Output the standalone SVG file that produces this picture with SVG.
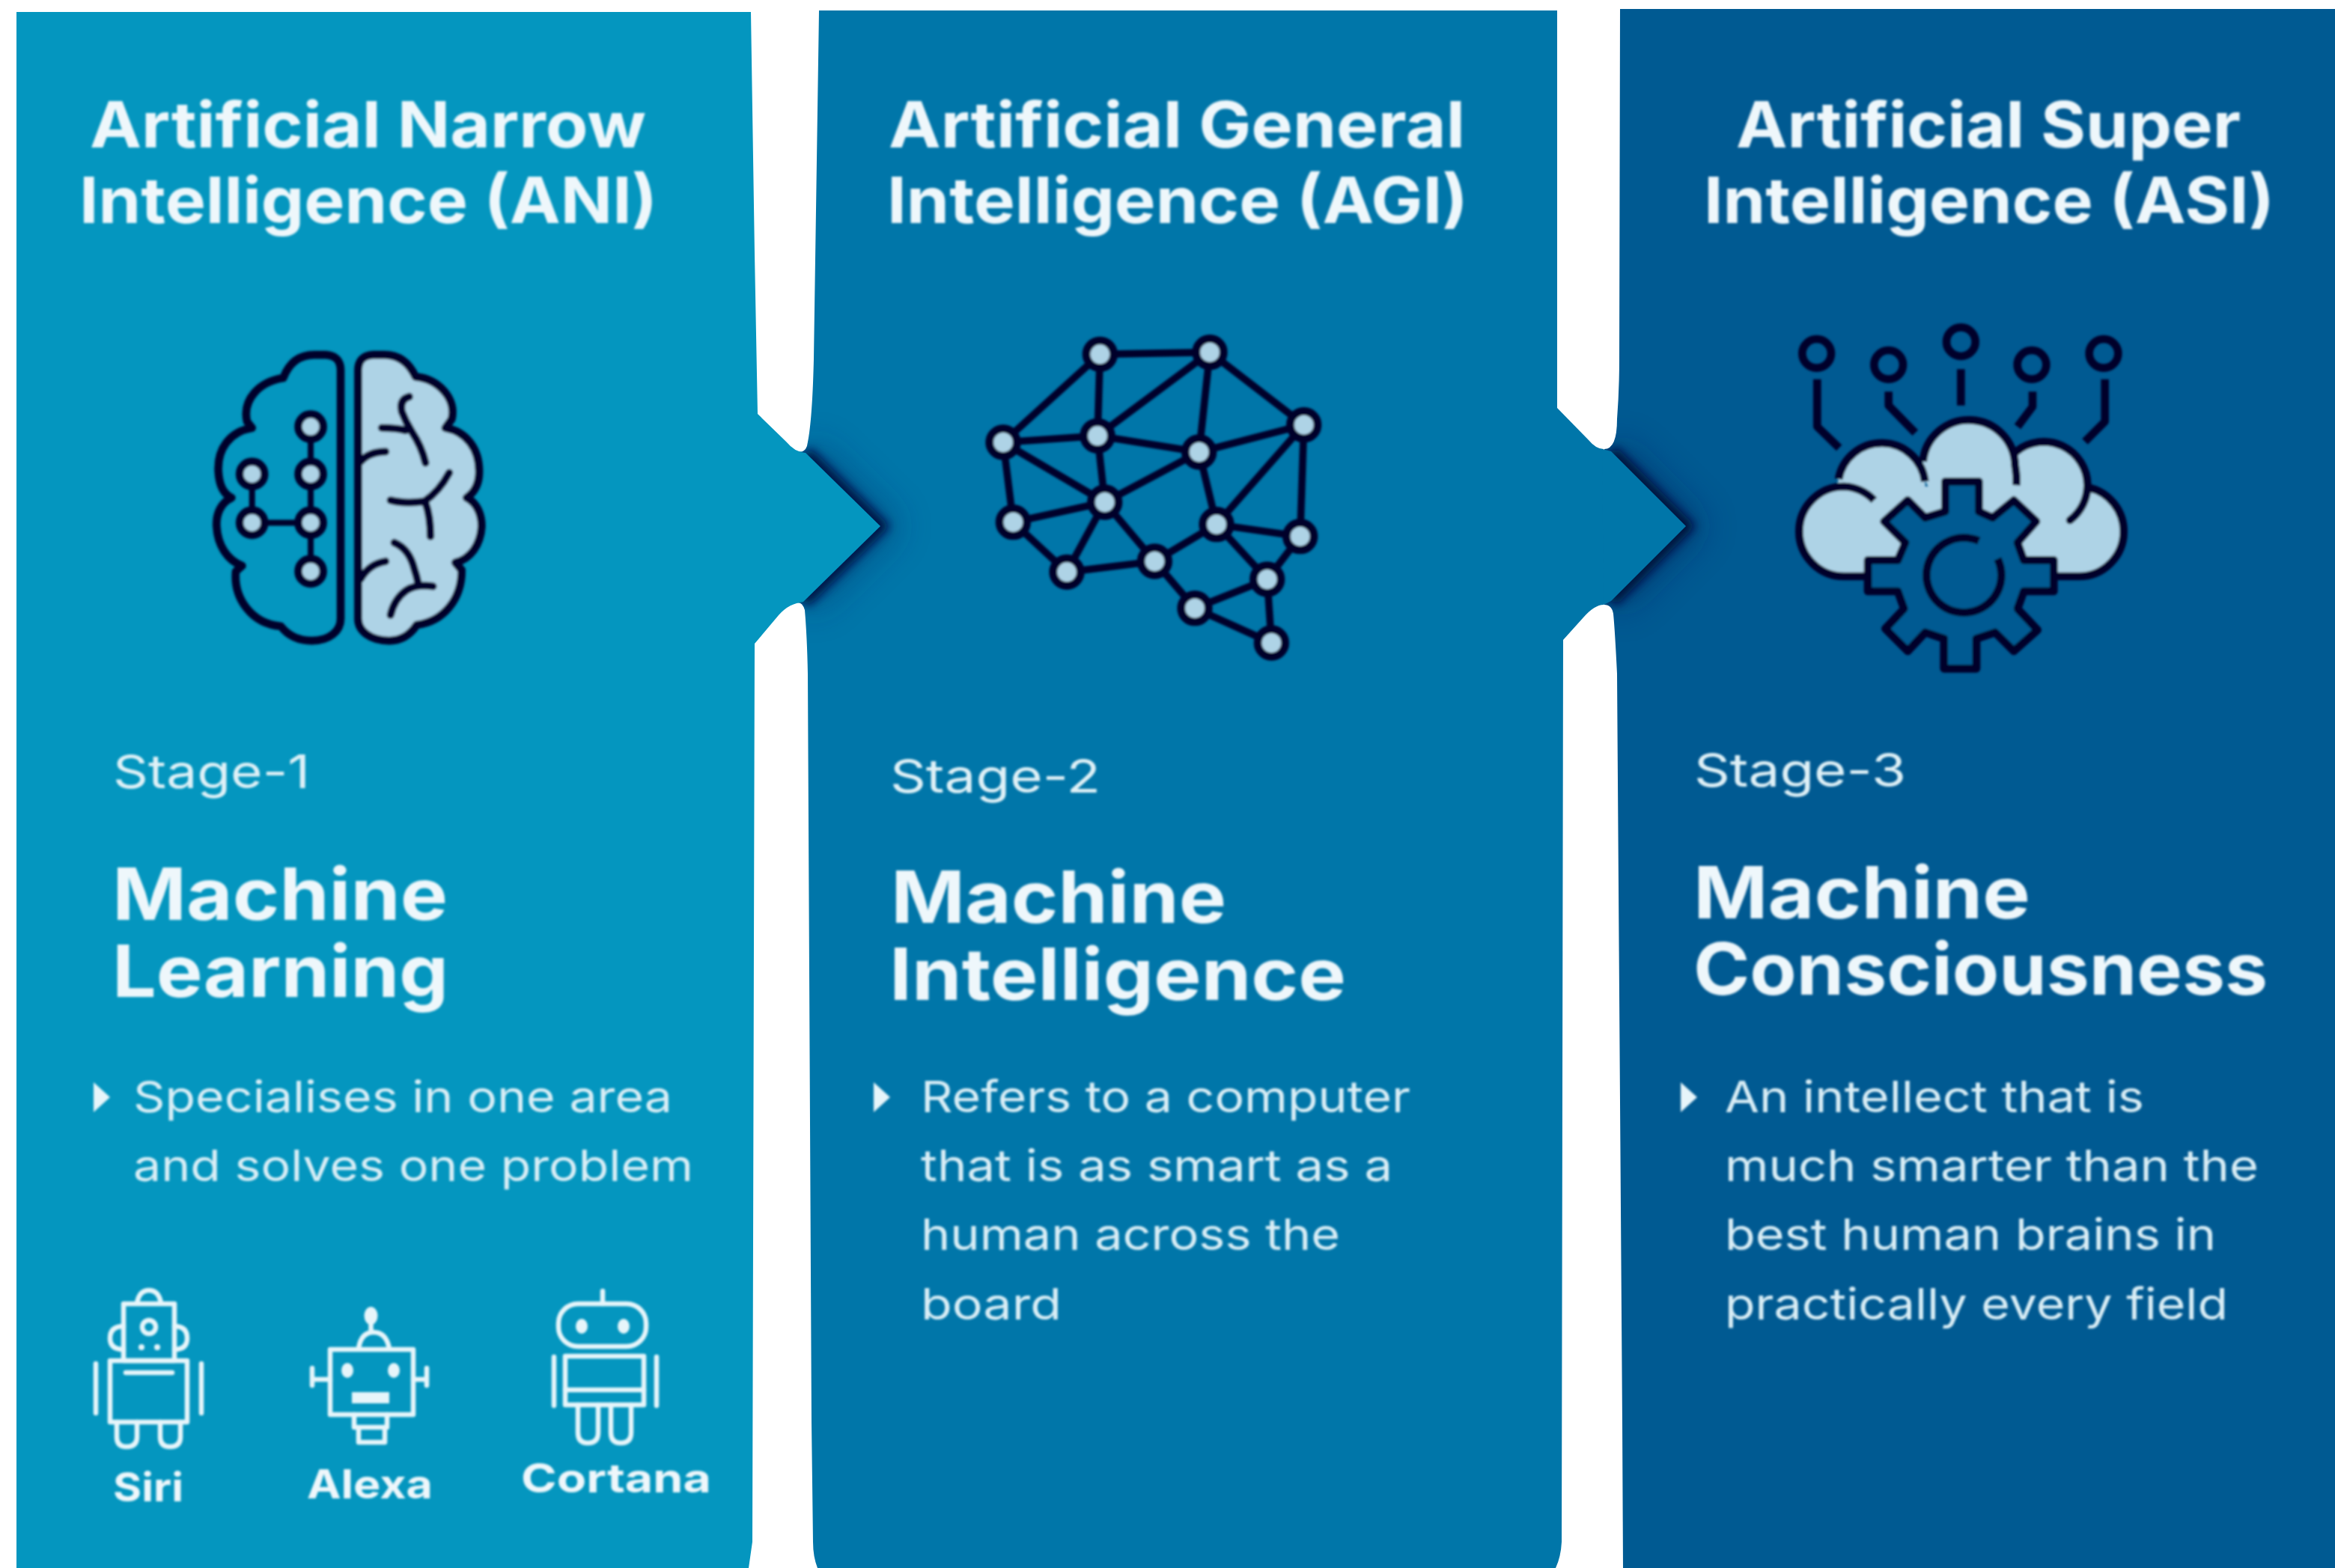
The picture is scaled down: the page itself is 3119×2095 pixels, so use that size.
<svg xmlns="http://www.w3.org/2000/svg" xmlns:xlink="http://www.w3.org/1999/xlink" width="3119" height="2095" viewBox="0 0 3119 2095">
<style>
text{font-family:"Inter","Liberation Sans",sans-serif;fill:#eef7fb}
.title{font-size:85px;font-weight:700}
.stage{font-size:62px;font-weight:400;fill:#dff1f7}
.head{font-size:96px;font-weight:700}
.body{font-size:58px;font-weight:400;fill:#d9eef6}
.cap{font-size:54px;font-weight:700}
.dk{fill:none;stroke:#00002a;stroke-linecap:round;stroke-linejoin:round}
.node{fill:#aed3e6;stroke:#00002a}
.lt{fill:#aed3e6}
.wh{fill:none;stroke:#e6f5fa;stroke-width:6.500;stroke-linejoin:round;stroke-linecap:round}
.wf{fill:#e6f5fa}
</style>
<defs>
<filter id="soft" filterUnits="userSpaceOnUse" x="0" y="0" width="3119" height="2095"><feGaussianBlur stdDeviation="1.400"/></filter>
<filter id="sh1" filterUnits="userSpaceOnUse" x="900" y="400" width="1500" height="600"><feGaussianBlur stdDeviation="7"/></filter>
<filter id="sh2" filterUnits="userSpaceOnUse" x="900" y="400" width="1500" height="600"><feGaussianBlur stdDeviation="24"/></filter>
<path id="p2shape" d="M1094 14H2080V545L2122 588Q2132 600 2142 600V808Q2130 808 2115 825L2088 855L2086 2060Q2085 2080 2078 2095H1092Q1086 2080 1086 2060L1084 1900L1079 900Q1078 850 1075 815Q1072 805 1066 805L1068 604Q1075 604 1078 596C1084 570 1086 520 1087 480L1094 14Z"/>
<path id="p3shape" d="M2164 12H3119V2095H2168L2167 1900L2160 900Q2157 840 2155 820Q2153 808 2143 808V600Q2160 600 2160 560Q2163 520 2163 480L2164 12Z"/>
<clipPath id="clip2"><use xlink:href="#p2shape"/></clipPath>
<clipPath id="clip3"><use xlink:href="#p3shape"/></clipPath>
</defs>
<rect width="3119" height="2095" fill="#ffffff"/>

<g id="panel-asi">
<use xlink:href="#p3shape" fill="#005a92"/>
<g filter="url(#soft)">
<text class="title" x="2319" y="197" textLength="674" lengthAdjust="spacingAndGlyphs">Artificial Super</text>
<text class="title" x="2276" y="298" textLength="762" lengthAdjust="spacingAndGlyphs">Intelligence (ASI)</text>
<g id="icon-asi" transform="translate(2360 400) scale(.33333)">
<g class="lt">
<circle cx="310" cy="930" r="180"/><circle cx="460" cy="745" r="175"/><circle cx="810" cy="665" r="185"/><circle cx="1110" cy="745" r="175"/><circle cx="1250" cy="930" r="180"/>
<rect x="310" y="750" width="940" height="360"/>
</g>
<g class="dk" stroke-width="32">
<path stroke-linecap="butt" d="M405 1110H310A180 180 0 1 1 310 750A180 180 0 0 1 430 805"/>
<path stroke-linecap="butt" d="M288 720A175 175 0 0 1 634 730"/>
<path stroke-linecap="butt" d="M626 650A185 185 0 0 1 995 665Q1003 710 1000 745"/>
<path d="M1000 610A175 175 0 0 1 1285 745A175 175 0 0 1 1215 885"/>
<path stroke-linecap="butt" d="M1290 755A180 180 0 0 1 1430 930A180 180 0 0 1 1250 1110H1150"/>
<circle cx="200" cy="217" r="58"/><circle cx="488" cy="262" r="58"/><circle cx="778" cy="170" r="58"/><circle cx="1062" cy="262" r="58"/><circle cx="1350" cy="217" r="58"/>
<path stroke-linecap="butt" d="M202 320V510L290 595M488 370V425L595 535M778 280V425M1065 370V430L1005 510M1355 320V490L1275 570"/>
<path fill="#005a92" d="M715 730H850V850L905 875L990 805L1080 890L1005 975L1030 1045H1150V1170H1030L1005 1240L1085 1325L990 1410L915 1335L840 1360V1480H710V1360L635 1335L565 1410L475 1320L550 1240L525 1170H405V1045H525L555 975L470 890L565 805L635 875L715 850Z"/>
<path stroke-linecap="butt" d="M850 968A150 150 0 1 0 925 1040"/>
</g>
</g>
<text class="stage" x="2263" y="1051" textLength="283" lengthAdjust="spacingAndGlyphs">Stage-3</text>
<text class="head" x="2262" y="1227" textLength="450" lengthAdjust="spacingAndGlyphs">Machine</text>
<text class="head" x="2262" y="1329" textLength="767" lengthAdjust="spacingAndGlyphs">Consciousness</text>
<polygon class="wf" points="2245,1446 2245,1486 2267,1466"/>
<text class="body" x="2304" y="1486" textLength="560" lengthAdjust="spacingAndGlyphs">An intellect that is</text>
<text class="body" x="2304" y="1578" textLength="713" lengthAdjust="spacingAndGlyphs">much smarter than the</text>
<text class="body" x="2304" y="1670" textLength="656" lengthAdjust="spacingAndGlyphs">best human brains in</text>
<text class="body" x="2304" y="1763" textLength="672" lengthAdjust="spacingAndGlyphs">practically every field</text>
</g>
</g>

<g id="panel-agi">
<use xlink:href="#p2shape" fill="#0076a9"/>
<g filter="url(#soft)">
<text class="title" x="1187" y="197" textLength="770" lengthAdjust="spacingAndGlyphs">Artificial General</text>
<text class="title" x="1185" y="298" textLength="776" lengthAdjust="spacingAndGlyphs">Intelligence (AGI)</text>
<g id="icon-agi" transform="translate(1280 400) scale(.33333)">
<path class="dk" stroke-width="29" d="M568 220L1008 212M568 220L180 573M568 220L558 547M1008 212L558 547M1008 212L965 612M1008 212L1385 503M1385 503L965 612M1385 503L1035 902M1385 503L1370 950M180 573L558 547M180 573L587 813M180 573L220 893M558 547L965 612M558 547L587 813M965 612L587 813M965 612L1035 902M587 813L220 893M587 813L435 1093M587 813L787 1050M220 893L435 1093M435 1093L787 1050M787 1050L1035 902M787 1050L948 1238M1035 902L1370 950M1035 902L1238 1122M1370 950L1238 1122M1238 1122L948 1238M1238 1122L1255 1377M948 1238L1255 1377"/>
<g class="node" stroke-width="32">
<circle cx="568" cy="220" r="55"/><circle cx="1008" cy="212" r="55"/><circle cx="1385" cy="503" r="55"/><circle cx="180" cy="573" r="55"/><circle cx="558" cy="547" r="55"/><circle cx="965" cy="612" r="55"/><circle cx="587" cy="813" r="55"/><circle cx="220" cy="893" r="55"/><circle cx="1035" cy="902" r="55"/><circle cx="1370" cy="950" r="55"/><circle cx="435" cy="1093" r="55"/><circle cx="787" cy="1050" r="55"/><circle cx="1238" cy="1122" r="55"/><circle cx="948" cy="1238" r="55"/><circle cx="1255" cy="1377" r="55"/>
</g>
</g>
<text class="stage" x="1189" y="1059" textLength="281" lengthAdjust="spacingAndGlyphs">Stage-2</text>
<text class="head" x="1190" y="1233" textLength="448" lengthAdjust="spacingAndGlyphs">Machine</text>
<text class="head" x="1188" y="1336" textLength="610" lengthAdjust="spacingAndGlyphs">Intelligence</text>
<polygon class="wf" points="1167,1446 1167,1486 1189,1466"/>
<text class="body" x="1230" y="1486" textLength="654" lengthAdjust="spacingAndGlyphs">Refers to a computer</text>
<text class="body" x="1230" y="1578" textLength="630" lengthAdjust="spacingAndGlyphs">that is as smart as a</text>
<text class="body" x="1230" y="1670" textLength="560" lengthAdjust="spacingAndGlyphs">human across the</text>
<text class="body" x="1230" y="1763" textLength="188" lengthAdjust="spacingAndGlyphs">board</text>
</g>
</g>

<g id="panel-ani">
<path fill="#0496bf" d="M22 16H1003L1008 340L1012 553L1050 590Q1062 604 1073 604V805Q1055 805 1040 822L1008 860L1005 2060L1000 2095H22Z"/>
<g filter="url(#soft)">
<text class="title" x="120" y="197" textLength="743" lengthAdjust="spacingAndGlyphs">Artificial Narrow</text>
<text class="title" x="106" y="298" textLength="772" lengthAdjust="spacingAndGlyphs">Intelligence (ANI)</text>
<g id="icon-ani" transform="translate(240 400) scale(.33333)">
<path class="dk" stroke-width="32" d="M645 1280V285Q645 225 585 222H540Q450 222 415 315C320 330 250 400 270 490L290 515C200 530 150 600 155 690C158 740 175 780 208 795C165 815 145 860 148 910C152 985 190 1045 250 1068L225 1090C215 1200 290 1300 405 1310C440 1355 490 1368 530 1368C600 1368 645 1330 645 1280Z"/>
<path class="node" stroke-width="32" stroke-linejoin="round" d="M715 285Q715 225 775 222H820Q905 222 945 310C1040 320 1110 400 1090 480L1065 515C1150 530 1200 600 1200 690C1200 740 1180 775 1150 795C1190 815 1210 860 1210 910C1205 985 1165 1040 1105 1055L1130 1085C1130 1200 1060 1290 950 1305C920 1350 880 1368 840 1368C765 1368 715 1330 715 1280Z"/>
<path class="dk" stroke-width="30" d="M920 390Q880 400 890 450Q905 490 930 530Q970 590 985 655M810 515Q870 515 905 525M725 650Q760 610 825 610M1080 695Q1040 770 980 810Q900 820 845 805M985 815Q1005 870 1005 950M860 975Q920 1000 940 1080Q950 1110 955 1135M1015 1150Q950 1140 910 1165Q860 1200 845 1265M725 1120Q760 1060 825 1050"/>
<path class="dk" stroke-width="24" d="M525 510V1090M290 700V895H525"/>
<g class="node" stroke-width="31">
<circle cx="525" cy="510" r="50"/><circle cx="525" cy="700" r="50"/><circle cx="525" cy="895" r="50"/><circle cx="525" cy="1090" r="50"/><circle cx="290" cy="700" r="50"/><circle cx="290" cy="895" r="50"/>
</g>
</g>
<text class="stage" x="151" y="1053" textLength="263" lengthAdjust="spacingAndGlyphs">Stage-1</text>
<text class="head" x="150" y="1229" textLength="448" lengthAdjust="spacingAndGlyphs">Machine</text>
<text class="head" x="150" y="1332" textLength="449" lengthAdjust="spacingAndGlyphs">Learning</text>
<polygon class="wf" points="125,1446 125,1486 147,1466"/>
<text class="body" x="178" y="1486" textLength="720" lengthAdjust="spacingAndGlyphs">Specialises in one area</text>
<text class="body" x="178" y="1578" textLength="748" lengthAdjust="spacingAndGlyphs">and solves one problem</text>
<g id="robot-siri">
<path class="wh" d="M183 1741Q186 1724 199 1724Q212 1724 215 1741"/>
<rect class="wh" x="165" y="1742" width="68" height="76"/>
<circle class="wh" cx="199" cy="1773" r="9"/>
<circle class="wf" cx="189" cy="1800" r="4"/><circle class="wf" cx="210" cy="1800" r="4"/>
<path class="wh" d="M165 1772Q147 1772 147 1788Q147 1803 165 1803M233 1772Q250 1772 250 1788Q250 1803 233 1803"/>
<rect class="wh" x="147" y="1818" width="103" height="82"/>
<path class="wh" d="M168 1834H230M128 1822V1888M269 1822V1888M156 1900V1920Q156 1933 169 1933Q183 1933 183 1920V1900M214 1900V1920Q214 1933 227 1933Q241 1933 241 1920V1900"/>
<text class="cap" x="151" y="2006" textLength="94" lengthAdjust="spacingAndGlyphs">Siri</text>
</g>
<g id="robot-alexa">
<ellipse class="wf" cx="495.500" cy="1758" rx="9" ry="12"/>
<path class="wh" d="M495.500 1765V1780M479 1802Q482 1780 499 1780Q516 1780 520 1802"/>
<rect class="wh" x="441" y="1803" width="111" height="87"/>
<ellipse class="wf" cx="464" cy="1831" rx="8" ry="10"/><ellipse class="wf" cx="526" cy="1831" rx="8" ry="10"/>
<rect class="wf" x="470" y="1860" width="50" height="15"/>
<path class="wh" d="M417 1828V1851M417 1843H441M570 1828V1851M570 1843H552"/>
<path class="wh" d="M473 1890V1907H517V1890M479 1907V1927H514V1907"/>
<text class="cap" x="410" y="2002" textLength="168" lengthAdjust="spacingAndGlyphs">Alexa</text>
</g>
<g id="robot-cortana">
<path class="wh" d="M805 1725V1742"/>
<rect class="wh" x="746" y="1742" width="117" height="57" rx="26"/>
<ellipse class="wf" cx="777" cy="1772" rx="8" ry="10"/><ellipse class="wf" cx="833" cy="1772" rx="8" ry="10"/>
<rect class="wh" x="755" y="1812" width="105" height="65"/>
<path class="wh" d="M755 1857H860M740 1813V1878M877 1813V1878M772 1877V1914Q772 1928 785 1928Q799 1928 799 1914V1877M816 1877V1914Q816 1928 829 1928Q843 1928 843 1914V1877"/>
<text class="cap" x="696" y="1994" textLength="254" lengthAdjust="spacingAndGlyphs">Cortana</text>
</g>
</g>
</g>

<g id="connectors">
<g id="connector-ani-agi">
<g clip-path="url(#clip2)">
<path d="M1076 605L1176 703L1073 804" fill="none" stroke="#002a66" stroke-width="36" opacity=".5" filter="url(#sh2)"/>
<path d="M1076 605L1176 703L1073 804" fill="none" stroke="#00103f" stroke-width="18" filter="url(#sh1)"/>
</g>
<path d="M1066 604L1076 605L1176 703L1073 804L1066 805Z" fill="#0496bf"/>
</g>
<g id="connector-agi-asi">
<g clip-path="url(#clip3)">
<path d="M2152 603L2252 703L2152 803" fill="none" stroke="#001a55" stroke-width="36" opacity=".5" filter="url(#sh2)"/>
<path d="M2152 603L2252 703L2152 803" fill="none" stroke="#000838" stroke-width="18" filter="url(#sh1)"/>
</g>
<path d="M2140 600L2152 603L2252 703L2152 803L2142 808Z" fill="#0076a9"/>
</g>
</g>
</svg>
